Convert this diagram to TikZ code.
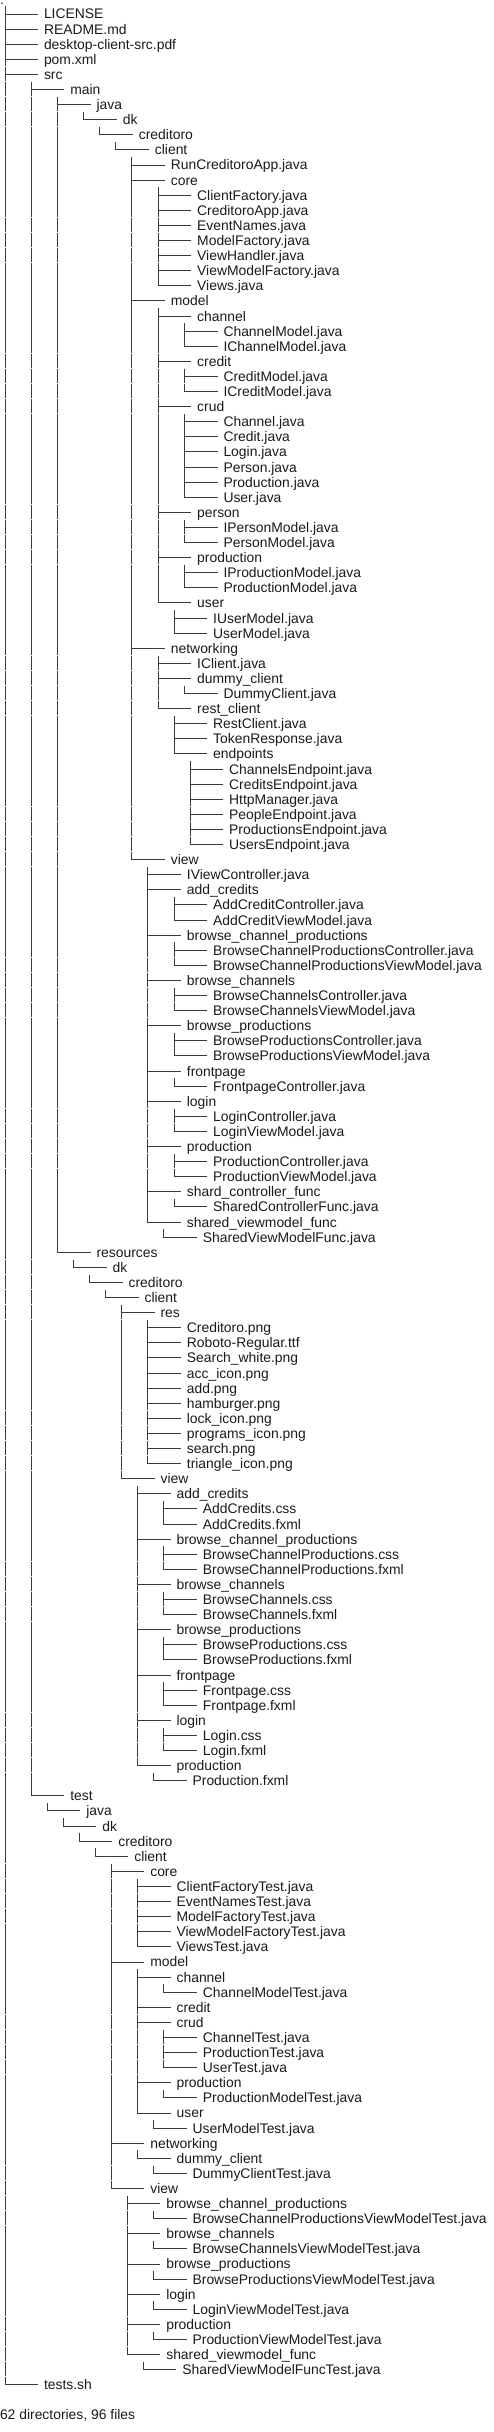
\documentclass[tikz,border=0pt]{standalone}
\usepackage{fontspec}
\setmainfont{Liberation Sans}
\definecolor{txt}{HTML}{1A1A1A}
\definecolor{lncol}{HTML}{3A3A3A}
\tikzset{
  tree/.style={draw=lncol, line width=0.85pt},
  lbl/.style={anchor=base west, inner sep=0pt, outer sep=0pt, text=txt, font=\fontsize{13.9}{16}\selectfont}
}
\newcount\lnum
\def\cx{0}
\def\cy{0}
\newcommand\segV{\draw[tree] (\cx,\cy-7.8) -- (\cx,\cy+6.8);\pgfmathsetmacro\cx{\cx+26.3}}
\newcommand\segS{\pgfmathsetmacro\cx{\cx+16}}
\newcommand\segT{\coordinate (j\the\lnum) at (\cx,\cy);\draw[tree] (\cx,\cy-7.8) -- (\cx,\cy+6.8);\draw[tree] (j\the\lnum) -- ++(33,0);\pgfmathsetmacro\cx{\cx+39}}
\newcommand\segL{\coordinate (j\the\lnum) at (\cx,\cy);\draw[tree] (\cx,\cy-7.8) -- (j\the\lnum) -- ++(33,0);\pgfmathsetmacro\cx{\cx+39}}
\def\parsepre#1{\ifx#1\relax\else\csname seg#1\endcsname\expandafter\parsepre\fi}
\newcommand\E[2]{\global\advance\lnum by 1 \pgfmathsetmacro\cy{15.1*\the\lnum-1.1}\def\cx{5}\parsepre#1\relax\node[lbl] (n\the\lnum) at (\cx,\cy+5) {#2};}
\begin{document}
\begin{tikzpicture}[x=1pt,y=-1pt]
\useasboundingbox (0,0) rectangle (493,2432);
\node[lbl] (n0) at (0,4.2) {.};
\E{T}{LICENSE}
\E{T}{README.md}
\E{T}{desktop-client-src.pdf}
\E{T}{pom.xml}
\E{T}{src}
\E{VT}{main}
\E{VVT}{java}
\E{VVVL}{dk}
\E{VVVSL}{creditoro}
\E{VVVSSL}{client}
\E{VVVSSST}{RunCreditoroApp.java}
\E{VVVSSST}{core}
\E{VVVSSSVT}{ClientFactory.java}
\E{VVVSSSVT}{CreditoroApp.java}
\E{VVVSSSVT}{EventNames.java}
\E{VVVSSSVT}{ModelFactory.java}
\E{VVVSSSVT}{ViewHandler.java}
\E{VVVSSSVT}{ViewModelFactory.java}
\E{VVVSSSVL}{Views.java}
\E{VVVSSST}{model}
\E{VVVSSSVT}{channel}
\E{VVVSSSVVT}{ChannelModel.java}
\E{VVVSSSVVL}{IChannelModel.java}
\E{VVVSSSVT}{credit}
\E{VVVSSSVVT}{CreditModel.java}
\E{VVVSSSVVL}{ICreditModel.java}
\E{VVVSSSVT}{crud}
\E{VVVSSSVVT}{Channel.java}
\E{VVVSSSVVT}{Credit.java}
\E{VVVSSSVVT}{Login.java}
\E{VVVSSSVVT}{Person.java}
\E{VVVSSSVVT}{Production.java}
\E{VVVSSSVVL}{User.java}
\E{VVVSSSVT}{person}
\E{VVVSSSVVT}{IPersonModel.java}
\E{VVVSSSVVL}{PersonModel.java}
\E{VVVSSSVT}{production}
\E{VVVSSSVVT}{IProductionModel.java}
\E{VVVSSSVVL}{ProductionModel.java}
\E{VVVSSSVL}{user}
\E{VVVSSSVST}{IUserModel.java}
\E{VVVSSSVSL}{UserModel.java}
\E{VVVSSST}{networking}
\E{VVVSSSVT}{IClient.java}
\E{VVVSSSVT}{dummy\_client}
\E{VVVSSSVVL}{DummyClient.java}
\E{VVVSSSVL}{rest\_client}
\E{VVVSSSVST}{RestClient.java}
\E{VVVSSSVST}{TokenResponse.java}
\E{VVVSSSVSL}{endpoints}
\E{VVVSSSVSST}{ChannelsEndpoint.java}
\E{VVVSSSVSST}{CreditsEndpoint.java}
\E{VVVSSSVSST}{HttpManager.java}
\E{VVVSSSVSST}{PeopleEndpoint.java}
\E{VVVSSSVSST}{ProductionsEndpoint.java}
\E{VVVSSSVSSL}{UsersEndpoint.java}
\E{VVVSSSL}{view}
\E{VVVSSSST}{IViewController.java}
\E{VVVSSSST}{add\_credits}
\E{VVVSSSSVT}{AddCreditController.java}
\E{VVVSSSSVL}{AddCreditViewModel.java}
\E{VVVSSSST}{browse\_channel\_productions}
\E{VVVSSSSVT}{BrowseChannelProductionsController.java}
\E{VVVSSSSVL}{BrowseChannelProductionsViewModel.java}
\E{VVVSSSST}{browse\_channels}
\E{VVVSSSSVT}{BrowseChannelsController.java}
\E{VVVSSSSVL}{BrowseChannelsViewModel.java}
\E{VVVSSSST}{browse\_productions}
\E{VVVSSSSVT}{BrowseProductionsController.java}
\E{VVVSSSSVL}{BrowseProductionsViewModel.java}
\E{VVVSSSST}{frontpage}
\E{VVVSSSSVL}{FrontpageController.java}
\E{VVVSSSST}{login}
\E{VVVSSSSVT}{LoginController.java}
\E{VVVSSSSVL}{LoginViewModel.java}
\E{VVVSSSST}{production}
\E{VVVSSSSVT}{ProductionController.java}
\E{VVVSSSSVL}{ProductionViewModel.java}
\E{VVVSSSST}{shard\_controller\_func}
\E{VVVSSSSVL}{SharedControllerFunc.java}
\E{VVVSSSSL}{shared\_viewmodel\_func}
\E{VVVSSSSSL}{SharedViewModelFunc.java}
\E{VVL}{resources}
\E{VVSL}{dk}
\E{VVSSL}{creditoro}
\E{VVSSSL}{client}
\E{VVSSSST}{res}
\E{VVSSSSVT}{Creditoro.png}
\E{VVSSSSVT}{Roboto-Regular.ttf}
\E{VVSSSSVT}{Search\_white.png}
\E{VVSSSSVT}{acc\_icon.png}
\E{VVSSSSVT}{add.png}
\E{VVSSSSVT}{hamburger.png}
\E{VVSSSSVT}{lock\_icon.png}
\E{VVSSSSVT}{programs\_icon.png}
\E{VVSSSSVT}{search.png}
\E{VVSSSSVL}{triangle\_icon.png}
\E{VVSSSSL}{view}
\E{VVSSSSST}{add\_credits}
\E{VVSSSSSVT}{AddCredits.css}
\E{VVSSSSSVL}{AddCredits.fxml}
\E{VVSSSSST}{browse\_channel\_productions}
\E{VVSSSSSVT}{BrowseChannelProductions.css}
\E{VVSSSSSVL}{BrowseChannelProductions.fxml}
\E{VVSSSSST}{browse\_channels}
\E{VVSSSSSVT}{BrowseChannels.css}
\E{VVSSSSSVL}{BrowseChannels.fxml}
\E{VVSSSSST}{browse\_productions}
\E{VVSSSSSVT}{BrowseProductions.css}
\E{VVSSSSSVL}{BrowseProductions.fxml}
\E{VVSSSSST}{frontpage}
\E{VVSSSSSVT}{Frontpage.css}
\E{VVSSSSSVL}{Frontpage.fxml}
\E{VVSSSSST}{login}
\E{VVSSSSSVT}{Login.css}
\E{VVSSSSSVL}{Login.fxml}
\E{VVSSSSSL}{production}
\E{VVSSSSSSL}{Production.fxml}
\E{VL}{test}
\E{VSL}{java}
\E{VSSL}{dk}
\E{VSSSL}{creditoro}
\E{VSSSSL}{client}
\E{VSSSSST}{core}
\E{VSSSSSVT}{ClientFactoryTest.java}
\E{VSSSSSVT}{EventNamesTest.java}
\E{VSSSSSVT}{ModelFactoryTest.java}
\E{VSSSSSVT}{ViewModelFactoryTest.java}
\E{VSSSSSVL}{ViewsTest.java}
\E{VSSSSST}{model}
\E{VSSSSSVT}{channel}
\E{VSSSSSVVL}{ChannelModelTest.java}
\E{VSSSSSVT}{credit}
\E{VSSSSSVT}{crud}
\E{VSSSSSVVT}{ChannelTest.java}
\E{VSSSSSVVT}{ProductionTest.java}
\E{VSSSSSVVL}{UserTest.java}
\E{VSSSSSVT}{production}
\E{VSSSSSVVL}{ProductionModelTest.java}
\E{VSSSSSVL}{user}
\E{VSSSSSVSL}{UserModelTest.java}
\E{VSSSSST}{networking}
\E{VSSSSSVL}{dummy\_client}
\E{VSSSSSVSL}{DummyClientTest.java}
\E{VSSSSSL}{view}
\E{VSSSSSST}{browse\_channel\_productions}
\E{VSSSSSSVL}{BrowseChannelProductionsViewModelTest.java}
\E{VSSSSSST}{browse\_channels}
\E{VSSSSSSVL}{BrowseChannelsViewModelTest.java}
\E{VSSSSSST}{browse\_productions}
\E{VSSSSSSVL}{BrowseProductionsViewModelTest.java}
\E{VSSSSSST}{login}
\E{VSSSSSSVL}{LoginViewModelTest.java}
\E{VSSSSSST}{production}
\E{VSSSSSSVL}{ProductionViewModelTest.java}
\E{VSSSSSSL}{shared\_viewmodel\_func}
\E{VSSSSSSSL}{SharedViewModelFuncTest.java}
\E{L}{tests.sh}
\node[lbl] (summary) at (0,2419.9) {62 directories, 96 files};
\end{tikzpicture}
\end{document}
